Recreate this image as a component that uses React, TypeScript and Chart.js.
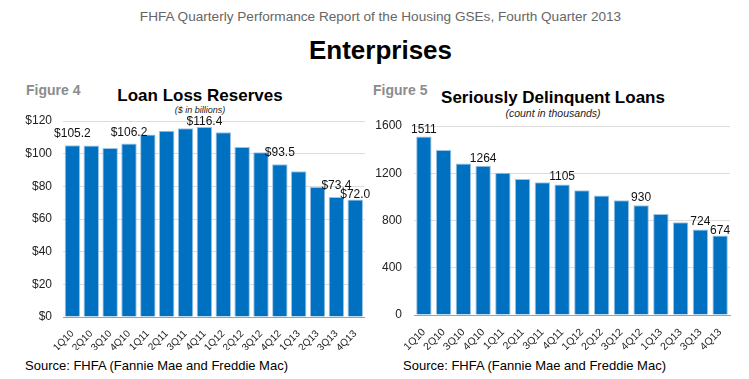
import React, { useEffect, useRef } from "react";
import { Chart, registerables } from "chart.js";
Chart.register(...registerables);

const FONT = "'Liberation Sans', Arial, Helvetica, sans-serif";

const quarters = ["1Q10", "2Q10", "3Q10", "4Q10", "1Q11", "2Q11", "3Q11", "4Q11", "1Q12", "2Q12", "3Q12", "4Q12", "1Q13", "2Q13", "3Q13", "4Q13"];

// Figure 4: Loan Loss Reserves ($ in billions)
const lossReserves = [105.2, 105.0, 103.5, 106.2, 111.7, 114.1, 115.5, 116.4, 113.1, 104.1, 100.9, 93.5, 89.2, 79.6, 73.4, 72.0];
const lossReserveLabels = ["$105.2", null, null, "$106.2", null, null, null, "$116.4", null, null, null, "$93.5", null, null, "$73.4", "$72.0"];
const reserveTicks = [0, 20, 40, 60, 80, 100, 120];

// Figure 5: Seriously Delinquent Loans (count in thousands)
const delinquentLoans = [1511, 1397, 1282, 1264, 1205, 1152, 1124, 1105, 1057, 1011, 972, 930, 856, 786, 724, 674];
const delinquentLabels = ["1511", null, null, "1264", null, null, null, "1105", null, null, null, "930", null, null, "724", "674"];
const delinquentTicks = [0, 400, 800, 1200, 1600];

type BarProps = {
  values: number[];
  labels: (string | null)[];
  ticks: number[];
  prefix: string;
  width: number;
  height: number;
  padTop: number;
  padRight: number;
  yWidth: number;
  xHeight: number;
  yPad: number;
  xFont: number;
  labelGap: number;
  barPct: number;
};

function BarChart(p: BarProps) {
  const ref = useRef<HTMLCanvasElement | null>(null);
  useEffect(() => {
    if (!ref.current) return;
    const valueLabels = {
      id: "valueLabels",
      afterDatasetsDraw(chart: any) {
        const ctx = chart.ctx;
        const meta = chart.getDatasetMeta(0);
        ctx.save();
        ctx.font = `12px ${FONT}`;
        ctx.fillStyle = "#111";
        ctx.textAlign = "center";
        ctx.textBaseline = "alphabetic";
        let prev: { l: number; r: number; y: number } | null = null;
        meta.data.forEach((el: any, i: number) => {
          const t = p.labels[i];
          if (!t) return;
          const w = ctx.measureText(t).width;
          let y = Math.max(el.y - p.labelGap, chart.chartArea.top + 3.5);
          const l = el.x - w / 2;
          const r = el.x + w / 2;
          if (prev && l < prev.r && Math.abs(y - prev.y) < 9) {
            y = prev.y + 9;
          }
          ctx.fillText(t, el.x, y);
          prev = { l, r, y };
        });
        ctx.restore();
      },
    };
    const chart = new Chart(ref.current, {
      type: "bar",
      data: {
        labels: quarters,
        datasets: [
          {
            data: p.values,
            backgroundColor: "#0070c0",
            borderColor: "#9cc3e4",
            borderWidth: { top: 1, left: 1, right: 1, bottom: 0 },
            barPercentage: p.barPct,
            categoryPercentage: 1,
          },
        ],
      },
      options: {
        responsive: false,
        animation: false,
        layout: { padding: { top: p.padTop, right: p.padRight, bottom: 0, left: 0 } },
        plugins: { legend: { display: false }, tooltip: { enabled: false } },
        scales: {
          x: {
            grid: { display: false, drawTicks: false },
            border: { display: true, color: "#a0a0a0", width: 1 },
            ticks: {
              autoSkip: false,
              maxRotation: 45,
              minRotation: 45,
              padding: 11,
              color: "#222",
              font: { family: FONT, size: p.xFont },
            },
            afterFit: (s: any) => {
              s.height = p.xHeight;
            },
          },
          y: {
            min: p.ticks[0],
            max: p.ticks[p.ticks.length - 1],
            afterBuildTicks: (s: any) => {
              s.ticks = p.ticks.map((v) => ({ value: v }));
            },
            grid: { color: "#dcdcdc", drawTicks: false, lineWidth: 1 },
            border: { display: false },
            ticks: {
              padding: p.yPad,
              color: "#222",
              font: { family: FONT, size: 12 },
              callback: (v: any) => p.prefix + v,
            },
            afterFit: (s: any) => {
              s.width = p.yWidth;
            },
          },
        },
      },
      plugins: [valueLabels],
    });
    return () => chart.destroy();
  }, []);
  return <canvas ref={ref} width={p.width} height={p.height} style={{ width: p.width, height: p.height, display: "block" }} />;
}

const abs = (o: any): React.CSSProperties => ({ position: "absolute", whiteSpace: "nowrap", fontFamily: FONT, ...o });

export default function App() {
  return (
    <div style={{ position: "fixed", left: 0, top: 0, width: 749, height: 379, background: "#fff", overflow: "hidden" }}>
      <div style={abs({ left: 0, width: 761, top: 9, textAlign: "center", fontSize: 13.6, color: "#666", lineHeight: "16px" })}>
        FHFA Quarterly Performance Report of the Housing GSEs, Fourth Quarter 2013
      </div>
      <div style={abs({ left: 0, width: 761, top: 35, textAlign: "center", fontSize: 26, fontWeight: "bold", color: "#000", lineHeight: "30px" })}>
        Enterprises
      </div>

      <div style={abs({ left: 26, top: 82, fontSize: 14, fontWeight: "bold", color: "#8c8c8c", lineHeight: "17px" })}>Figure 4</div>
      <div style={abs({ left: 0, width: 400, top: 86, textAlign: "center", fontSize: 17, fontWeight: "bold", color: "#000", lineHeight: "20px" })}>
        Loan Loss Reserves
      </div>
      <div style={abs({ left: 0, width: 400, top: 105, textAlign: "center", fontSize: 9, fontStyle: "italic", color: "#222", lineHeight: "11px" })}>
        ($ in billions)
      </div>

      <div style={abs({ left: 373, top: 82, fontSize: 14, fontWeight: "bold", color: "#8c8c8c", lineHeight: "17px" })}>Figure 5</div>
      <div style={abs({ left: 353, width: 400, top: 88, textAlign: "center", fontSize: 17, fontWeight: "bold", color: "#000", lineHeight: "20px" })}>
        Seriously Delinquent Loans
      </div>
      <div style={abs({ left: 353, width: 400, top: 107, textAlign: "center", fontSize: 10.5, fontStyle: "italic", color: "#222", lineHeight: "12px" })}>
        (count in thousands)
      </div>

      <div style={{ position: "absolute", left: 0, top: 100 }}>
        <BarChart
          values={lossReserves}
          labels={lossReserveLabels}
          ticks={reserveTicks}
          prefix="$"
          width={375}
          height={250}
          padTop={21}
          padRight={8}
          yWidth={63}
          xHeight={33}
          yPad={11}
          xFont={10}
          labelGap={8}
          barPct={0.82}
        />
      </div>
      <div style={{ position: "absolute", left: 375, top: 100 }}>
        <BarChart
          values={delinquentLoans}
          labels={delinquentLabels}
          ticks={delinquentTicks}
          prefix=""
          width={374}
          height={250}
          padTop={26}
          padRight={19}
          yWidth={39}
          xHeight={35}
          yPad={12}
          xFont={10.5}
          labelGap={4}
          barPct={0.78}
        />
      </div>

      <div style={abs({ left: 25, top: 358, fontSize: 13, color: "#000", lineHeight: "16px" })}>Source: FHFA (Fannie Mae and Freddie Mac)</div>
      <div style={abs({ left: 403, top: 358, fontSize: 13, color: "#000", lineHeight: "16px" })}>Source: FHFA (Fannie Mae and Freddie Mac)</div>
    </div>
  );
}
